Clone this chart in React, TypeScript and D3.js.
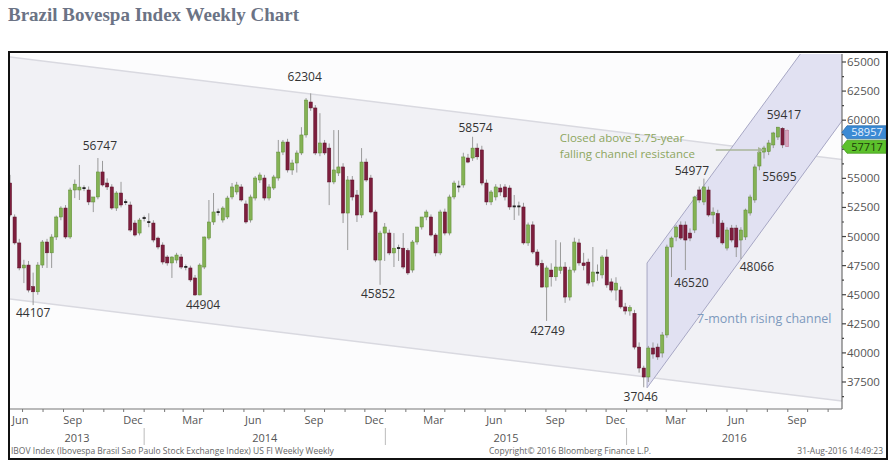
import React from 'react';
import * as d3 from 'd3';

type OHLC = [number, number, number, number];

const firstWeek = '2013-06-12';
const lastDay = '2016-11-22';

// weekly [open, high, low, close]
const weeks2013: OHLC[] = [
  [54600, 55300, 51700, 51850], [51680, 51900, 49300, 49450], [49450, 49800, 47100, 47300], [47300, 48000, 46000, 47550],
  [47550, 47900, 45200, 45400], [45700, 46900, 44107, 45250], [45250, 47800, 45000, 47550], [47550, 49700, 47300, 49530],
  [49530, 49800, 47300, 48600], [48600, 50200, 47300, 49960], [49960, 51800, 49700, 51680], [51680, 52600, 51400, 52450],
  [52450, 52700, 49800, 49960], [49960, 54200, 49800, 54000], [54000, 54900, 53300, 54500], [54000, 56150, 53140, 54250],
  [54170, 54400, 53900, 54170], [54000, 54300, 52700, 52970], [52970, 53400, 52100, 53400], [53400, 56747, 53200, 55550],
  [55550, 56500, 54300, 54430], [54600, 55000, 54000, 54260], [54260, 54500, 52300, 52450], [52450, 53900, 52200, 53740],
  [53740, 54700, 52500, 52710], [52970, 53200, 52700, 52950], [52710, 53000, 50400, 50560], [51160, 51400, 50000, 50130],
  [50300, 51600, 50100, 51420],
];
const weeks2014: OHLC[] = [
  [51590, 51800, 51300, 51600], [51250, 52000, 50800, 51200], [51160, 51400, 49500, 49700], [49870, 50000, 48900, 49100],
  [49270, 49500, 47600, 47810], [48240, 48400, 47500, 47730], [47730, 48300, 46440, 48240], [47980, 48600, 47700, 48410],
  [48240, 48500, 47200, 47380], [47380, 47600, 47100, 47400], [47300, 47500, 46100, 46270], [46440, 46700, 44904, 44980],
  [44980, 47700, 44950, 47550], [47380, 50000, 47200, 49960], [49870, 53140, 49700, 51250], [51250, 53740, 51000, 52110],
  [52110, 52400, 51800, 52100], [51420, 52600, 51200, 52450], [51680, 53500, 51500, 53310], [53400, 54600, 53200, 54260],
  [53830, 54700, 53600, 54430], [54260, 54500, 53000, 53140], [52800, 53100, 51100, 51250], [51420, 53600, 51200, 53400],
  [53310, 55200, 53100, 55030], [54860, 55500, 54600, 55290], [55030, 55300, 53100, 53310], [53310, 54500, 53100, 54260],
  [54170, 55300, 54000, 55120], [55030, 58300, 54800, 57260], [57260, 58300, 57000, 58120], [58120, 58400, 55500, 55720],
  [55720, 56600, 55300, 56320], [56320, 57400, 55500, 57180], [57180, 59400, 57000, 58730], [58730, 61900, 58500, 61730],
  [61560, 62304, 60800, 61050], [61050, 61300, 57000, 57180], [57180, 60600, 56900, 58040], [58040, 58300, 57000, 57180],
  [57600, 58000, 52700, 54690], [54690, 59150, 54500, 55720], [55460, 59150, 55200, 55980], [55980, 56300, 51160, 52020],
  [52020, 55200, 48840, 54860], [54860, 55200, 53100, 53400], [53570, 54000, 51250, 51850], [51850, 57600, 51600, 56400],
  [56400, 56700, 54700, 54860], [55030, 55300, 52000, 52110], [52110, 52300, 47800, 47980], [47980, 50500, 45852, 50300],
  [50300, 51160, 47900, 50820],
];
const weeks2015: OHLC[] = [
  [50300, 50600, 48400, 48590], [48590, 50300, 47380, 49000], [49000, 49300, 47900, 49020], [49000, 50300, 47200, 47380],
  [48800, 49000, 46700, 46870], [47120, 49700, 46900, 49530], [49530, 50500, 49300, 50820], [50820, 51500, 50600, 51680],
  [51680, 52300, 51400, 52110], [51680, 51900, 50000, 50130], [50130, 50300, 48300, 48590], [48590, 52300, 48400, 52110],
  [52110, 52400, 50100, 50300], [50300, 53600, 50100, 53400], [53400, 54800, 53200, 54600], [54260, 54800, 53800, 54300],
  [54430, 57200, 54200, 56840], [56750, 57100, 56300, 56400], [56750, 58574, 56500, 57600], [57600, 58000, 56600, 56850],
  [57440, 57800, 54400, 54600], [54600, 54900, 52700, 52970], [52970, 54000, 52700, 53830], [53400, 54500, 53100, 54260],
  [54170, 54500, 53500, 53830], [54260, 54500, 53100, 53400], [54170, 54400, 52300, 52540], [52540, 53570, 51420, 52600],
  [52600, 53000, 51800, 52540], [52540, 52900, 49300, 49450], [49450, 51200, 49200, 51000], [51000, 51300, 48500, 48670],
  [48670, 48900, 47400, 47550], [47700, 48000, 45600, 45660], [45660, 47500, 42749, 47300], [47120, 47700, 45700, 46540],
  [46540, 49700, 46200, 47380], [47100, 49500, 46800, 47380], [47380, 47800, 44300, 44800], [44800, 47400, 44500, 47120],
  [47120, 49900, 46900, 49530], [49450, 49800, 47500, 47730], [47730, 48600, 47100, 47500], [47800, 48100, 45800, 46000],
  [46100, 49100, 45700, 46950], [46870, 47600, 46200, 46900], [46700, 48400, 46400, 48240], [48240, 48900, 45600, 45840],
  [46100, 46400, 45200, 45400], [45400, 46500, 44500, 46000], [45400, 45700, 43800, 43950], [43950, 44300, 43300, 43600],
];
const weeks2016: OHLC[] = [
  [43600, 44100, 43200, 43900], [43400, 43700, 40300, 40500], [40500, 40900, 38300, 38700], [38700, 38900, 37046, 37930],
  [37930, 40600, 37500, 40420], [40420, 40900, 39500, 39900], [40500, 40800, 39400, 39650], [39990, 41800, 39600, 41540],
  [41540, 49300, 41300, 49100], [49100, 50000, 46520, 49870], [49960, 51000, 49600, 50820], [50990, 51300, 49700, 49870],
  [50990, 51300, 47120, 49700], [50300, 50700, 49600, 49870], [50560, 53500, 50300, 53400], [54000, 54300, 52900, 53140],
  [52970, 54977, 52700, 54260], [54000, 54300, 51700, 51850], [51850, 52500, 51100, 52100], [51970, 52300, 49800, 49960],
  [51160, 51400, 49300, 49450], [49010, 50800, 48800, 50560], [50730, 51000, 49500, 49700], [50730, 51000, 48240, 49100],
  [49700, 50800, 48066, 50560], [49960, 52400, 49700, 52280], [52020, 53600, 51800, 53400], [53140, 56200, 52900, 55980],
  [56060, 57600, 55695, 57260], [57260, 57800, 56700, 57610], [57300, 58300, 57000, 58040], [57870, 59000, 57600, 58900],
  [58550, 59417, 58300, 59400], [59300, 59400, 57600, 57870], [59100, 59200, 57700, 57717],
];

// 57500 sits under the price tag in the reference, so it is not labelled
const yTickValues = [37500, 40000, 42500, 45000, 47500, 50000, 52500, 55000, 60000, 62500, 65000];

const pivotWeek = [5, 19, 40, 65, 80, 100, 116, 137, 143, 150, 158, 162, 166];
const pivotValue = [44107, 56747, 44904, 62304, 45852, 58574, 42749, 37046, 46520, 54977, 48066, 55695, 59417];

const fallingChannelDates = ['2013-06-12', '2016-11-22'];
const fallingUpper = [65430, 56621];
const fallingLower = [44632, 35867];
const risingChannelDates = ['2016-02-01', '2016-11-22'];
const risingLower = [37000, 59939];
const risingUpper = [47726, 70570];

const arrowDates = ['2016-05-15', '2016-07-26'];
const arrowValue = 57437;

const lastPrice = 58957;
const secondPrice = 57717;

const title = 'Brazil Bovespa Index Weekly Chart';
const noteResistance = ['Closed above 5.75-year', 'falling channel resistance'];
const noteRising = '7-month rising channel';
const footerLeft = 'IBOV Index (Ibovespa Brasil Sao Paulo Stock Exchange Index) US FI Weekly  Weekly';
const footerMid = 'Copyright\u00A9 2016 Bloomberg Finance L.P.';
const footerRight = '31-Aug-2016 14:49:23';

const W = 889;
const H = 462;
const L = 10, R = 842, T = 54, B = 409;

export default function App() {
  const parse = d3.utcParse('%Y-%m-%d');
  const t0 = parse(firstWeek)!;
  const t1 = parse(lastDay)!;
  const all = [...weeks2013, ...weeks2014, ...weeks2015, ...weeks2016];
  const candles = all.map((d, i) => ({ date: d3.utcDay.offset(t0, 7 * i), o: d[0], h: d[1], l: d[2], c: d[3] }));
  const x = d3.scaleUtc().domain([t0, t1]).range([L, R]);
  const y = d3.scaleLinear().domain([35265, 65687]).range([408, T]);

  const months = d3.utcMonth.range(d3.utcMonth.ceil(t0), t1);
  const labelMonths = d3.utcMonth.range(d3.utcMonth.floor(t0), t1).filter((m) => m.getUTCMonth() % 3 === 2);
  const years = [2013, 2014, 2015, 2016].map((yr) => {
    const s = new Date(Math.max(Date.UTC(yr, 0, 1), +t0));
    const e = new Date(Math.min(Date.UTC(yr + 1, 0, 1), +t1));
    return { yr, cx: x(new Date((+s + +e) / 2)) };
  });
  const yearBreaks = [2014, 2015, 2016].map((yr) => x(new Date(Date.UTC(yr, 0, 1))));

  const fd = fallingChannelDates.map((d) => x(parse(d)!));
  const rd = risingChannelDates.map((d) => x(parse(d)!));
  const fallingPoly = [[fd[0], y(fallingUpper[0])], [fd[1], y(fallingUpper[1])], [fd[1], y(fallingLower[1])], [fd[0], y(fallingLower[0])]];
  const risingPoly = [[rd[0], y(risingLower[0])], [rd[1], y(risingLower[1])], [rd[1], y(risingUpper[1])], [rd[0], y(risingUpper[0])]];
  const line = d3.line();

  const pivotDx = [0, 2, 8, -6, -2, 3, 1, -3, 20, -12, 16, 20, 6];
  const pivotDy = [11.5, -8.5, 13, -12, 13.5, -4.5, 14.5, 14, 9.5, -3.5, 11.5, 11, -7.5];

  const ax0 = x(parse(arrowDates[0])!);
  const ax1 = x(parse(arrowDates[1])!);
  const ay = y(arrowValue);

  const bw = 3.2;
  const sans = '"Open Sans", "Noto Sans", Arial, sans-serif';

  const tag = (v: number, fill: string, text: string) => {
    const cy = y(v);
    const p = `M${R},${cy} L${R + 5},${cy - 6.5} L${R + 44},${cy - 6.5} L${R + 44},${cy + 6.5} L${R + 5},${cy + 6.5} Z`;
    return (
      <g>
        <path d={p} fill={fill} stroke={d3.color(fill)!.darker(0.6).toString()} strokeWidth={0.8} />
        <text x={R + 25} y={cy + 4} textAnchor="middle" fontSize={11} fontFamily={sans} fill={text}>{v}</text>
      </g>
    );
  };

  return (
    <svg width={W} height={H} style={{ position: 'absolute', left: 0, top: 0, background: '#fff' }}>
      <defs>
        <clipPath id="plotClip"><rect x={L} y={T} width={R - L} height={B - T} /></clipPath>
        <marker id="arr" viewBox="0 0 10 10" refX="9" refY="5" markerWidth="5" markerHeight="5" orient="auto">
          <path d="M0,0 L10,5 L0,10 Z" fill="#a9b59a" />
        </marker>
      </defs>
      <text x={8} y={21} fontFamily='"Liberation Serif", "Times New Roman", serif' fontWeight="bold" fontSize={19} fill="#6b7385">{title}</text>

      <rect x={L} y={T} width={R - L} height={B - T} fill="#fcfcfd" />
      <g clipPath="url(#plotClip)">
        <path d={line(fallingPoly as [number, number][])! + 'Z'} fill="#f1f1f5" />
        <path d={line([fallingPoly[0], fallingPoly[1]] as [number, number][])!} stroke="#d9d9e0" strokeWidth={1.5} fill="none" />
        <path d={line([fallingPoly[3], fallingPoly[2]] as [number, number][])!} stroke="#d9d9e0" strokeWidth={1.5} fill="none" />
        <path d={line(risingPoly as [number, number][])! + 'Z'} fill="#e1e1f2" />
        <path d={line([risingPoly[0], risingPoly[1]] as [number, number][])!} stroke="#a7a7c4" strokeWidth={1} fill="none" />
        <path d={line([risingPoly[3], risingPoly[2]] as [number, number][])!} stroke="#a7a7c4" strokeWidth={1} fill="none" />
        <path d={line([risingPoly[0], risingPoly[3]] as [number, number][])!} stroke="#a7a7c4" strokeWidth={1} fill="none" />

        {candles.map((d, i) => {
          const cx = x(d.date);
          const up = d.c >= d.o;
          const last = i === candles.length - 1;
          const top = y(Math.max(d.o, d.c));
          const bot = y(Math.min(d.o, d.c));
          const doji = bot - top < 1.2;
          const fill = last ? '#d9a3bd' : up ? '#84b254' : '#7d1e3d';
          const stroke = last ? '#b97a98' : up ? '#5c8a33' : '#5c1028';
          return (
            <g key={i}>
              <line x1={cx} x2={cx} y1={y(d.h)} y2={y(d.l)} stroke={last ? '#c99' : '#9a9a9a'} strokeWidth={1} />
              {doji ? (
                <rect x={cx - bw / 2} y={top - 0.8} width={bw} height={1.8} fill="#222" />
              ) : (
                <rect x={cx - bw / 2} y={top} width={bw} height={bot - top} fill={fill} stroke={stroke} strokeWidth={0.5} />
              )}
            </g>
          );
        })}

        <line x1={ax0} x2={ax1} y1={ay} y2={ay} stroke="#a9b59a" strokeWidth={1.3} markerEnd="url(#arr)" />
        {noteResistance.map((t, k) => (
          <text key={k} x={ax0 - 156} y={ay - 8 + k * 16} fontFamily={sans} fontSize={11.5} fill="#8da65e">{t}</text>
        ))}
        <text x={rd[0] + 50} y={y(42550)} fontFamily={sans} fontSize={12.5} fill="#7d99bd">{noteRising}</text>

        {pivotWeek.map((w, k) => (
          <text key={k} x={x(candles[w].date) + pivotDx[k]} y={y(pivotValue[k]) + pivotDy[k]} textAnchor="middle" fontFamily={sans} fontSize={12} fill="#333">{pivotValue[k]}</text>
        ))}
      </g>

      {/* right axis */}
      <line x1={R} x2={R} y1={T} y2={B} stroke="#555" strokeWidth={1} />
      {d3.range(36250, 65700, 1250).map((v) => (
        <line key={v} x1={R} x2={R + (v % 2500 === 0 ? 4 : 2)} y1={y(v)} y2={y(v)} stroke="#444" strokeWidth={1.2} />
      ))}
      {yTickValues.map((v) => (
        <text key={v} x={R + 5} y={y(v) + 4} fontFamily={sans} fontSize={11.5} fill="#555">{v}</text>
      ))}
      {tag(lastPrice, '#3b8ad4', '#e6f1ff')}
      {tag(secondPrice, '#5cc12b', '#1d3a0c')}

      {/* bottom axis */}
      <line x1={L} x2={R} y1={B} y2={B} stroke="#777" strokeWidth={1} />
      {months.map((m, k) => (
        <line key={k} x1={x(m)} x2={x(m)} y1={B} y2={B + 3} stroke="#777" strokeWidth={1} />
      ))}
      {labelMonths.map((m, k) => {
        const px = x(d3.utcDay.offset(m, 14));
        const near = px < L + 12;
        return (
          <text key={k} x={near ? L + 2 : px} y={424} textAnchor={near ? 'start' : 'middle'} fontFamily={sans} fontSize={11} fill="#555">{d3.utcFormat('%b')(m)}</text>
        );
      })}
      {years.map((d) => (
        <text key={d.yr} x={d.cx} y={442} textAnchor="middle" fontFamily={sans} fontSize={11} fill="#555">{d.yr}</text>
      ))}
      {yearBreaks.map((bx, k) => (
        <line key={k} x1={bx} x2={bx} y1={428} y2={445} stroke="#bbb" strokeWidth={1} />
      ))}

      <text x={11} y={454} fontFamily={sans} fontSize={8.5} fill="#666">{footerLeft}</text>
      <text x={489} y={454} fontFamily={sans} fontSize={8.5} fill="#666">{footerMid}</text>
      <text x={883} y={454} textAnchor="end" fontFamily={sans} fontSize={8.5} fill="#666">{footerRight}</text>

      <rect x={9} y={52} width={878} height={407} fill="none" stroke="#111" strokeWidth={2} />
    </svg>
  );
}
